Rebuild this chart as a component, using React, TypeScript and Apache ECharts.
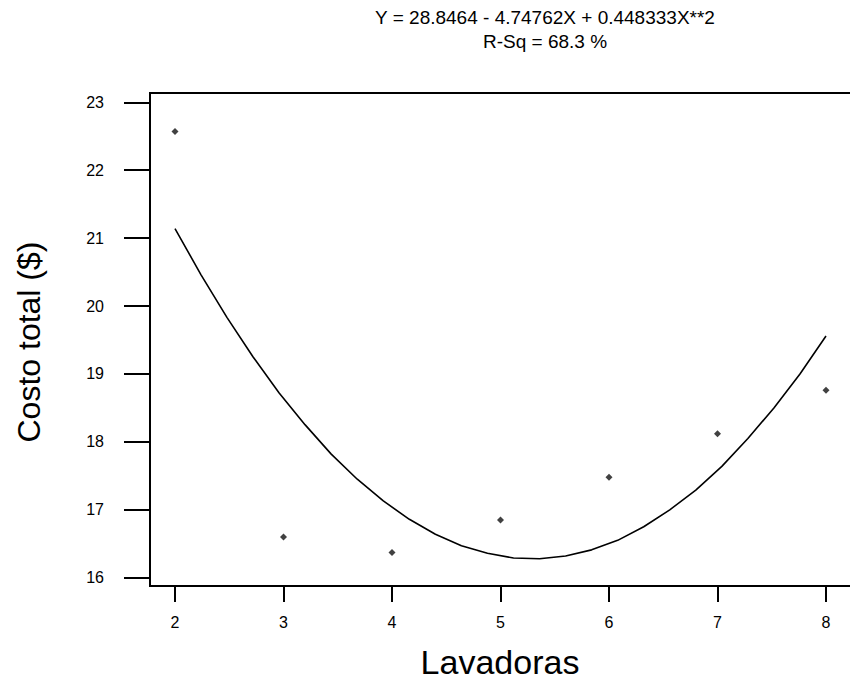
import React, { useEffect, useRef } from "react";
import * as echarts from "echarts";

const obsX = [2, 3, 4, 5, 6, 7, 8];
const obsY = [22.57, 16.6, 16.37, 16.85, 17.48, 18.12, 18.76];

const fitX = [2, 2.24, 2.48, 2.72, 2.96, 3.2, 3.44, 3.68, 3.92, 4.16, 4.4, 4.64, 4.88, 5.12, 5.36, 5.6, 5.84, 6.08, 6.32, 6.56, 6.8, 7.04, 7.28, 7.52, 7.76, 8];
const fitY = [21.14, 20.46, 19.83, 19.25, 18.72, 18.25, 17.82, 17.45, 17.13, 16.86, 16.64, 16.47, 16.36, 16.29, 16.28, 16.32, 16.41, 16.55, 16.75, 17.0, 17.29, 17.64, 18.05, 18.5, 19.0, 19.56];

const xTicks = [2, 3, 4, 5, 6, 7, 8];
const yTicks = [16, 17, 18, 19, 20, 21, 22, 23];

const titleLine1 = "Y = 28.8464 - 4.74762X + 0.448333X**2";
const titleLine2 = "R-Sq = 68.3 %";
const xName = "Lavadoras";
const yName = "Costo total ($)";

const FONT = "'Liberation Sans', Arial, sans-serif";

export default function App() {
  const ref = useRef<HTMLDivElement>(null);
  useEffect(() => {
    document.body.style.margin = "0";
    if (!ref.current) return;
    const chart = echarts.init(ref.current, null, { renderer: "svg" });
    chart.setOption({
      animation: false,
      backgroundColor: "#fff",
      textStyle: { fontFamily: FONT },
      grid: {
        left: 150,
        right: 0,
        top: 93,
        bottom: 95,
        show: true,
        borderColor: "#000",
        borderWidth: 2,
      },
      xAxis: {
        type: "value",
        min: 1.7696,
        max: 8.3134,
        splitLine: { show: false },
        axisLine: { show: false },
        axisTick: { show: true, length: 16, lineStyle: { color: "#000", width: 2 }, customValues: xTicks },
        axisLabel: { show: true, margin: 28, fontSize: 16, color: "#000", fontFamily: FONT, customValues: xTicks },
      },
      yAxis: {
        type: "value",
        min: 15.878,
        max: 23.137,
        splitLine: { show: false },
        axisLine: { show: false },
        axisTick: { show: true, length: 26, lineStyle: { color: "#000", width: 2 }, customValues: yTicks },
        axisLabel: { show: true, margin: 46, fontSize: 16, color: "#000", fontFamily: FONT, customValues: yTicks },
      },
      series: [
        {
          type: "line",
          data: fitX.map((x, i) => [x, fitY[i]]),
          showSymbol: false,
          symbol: "none",
          lineStyle: { color: "#000", width: 1.6 },
          silent: true,
          z: 2,
        },
        {
          type: "scatter",
          data: obsX.map((x, i) => [x, obsY[i]]),
          symbol: "diamond",
          symbolSize: 7,
          itemStyle: { color: "#111" },
          z: 3,
        },
      ],
      graphic: [
        {
          type: "text",
          x: 545,
          y: 17,
          style: { text: titleLine1, fontSize: 19, fontFamily: FONT, fill: "#000", align: "center", verticalAlign: "middle" },
        },
        {
          type: "text",
          x: 545,
          y: 41,
          style: { text: titleLine2, fontSize: 19, fontFamily: FONT, fill: "#000", align: "center", verticalAlign: "middle" },
        },
        {
          type: "text",
          x: 500,
          y: 662,
          style: { text: xName, fontSize: 34, fontFamily: FONT, fill: "#000", align: "center", verticalAlign: "middle" },
        },
        {
          type: "text",
          x: 29,
          y: 342,
          rotation: Math.PI / 2,
          style: { text: yName, fontSize: 32, fontFamily: FONT, fill: "#000", align: "center", verticalAlign: "middle" },
        },
      ],
    });
    return () => chart.dispose();
  }, []);
  return (
    <div style={{ width: 850, height: 681, overflow: "hidden", position: "relative" }}>
      <div ref={ref} style={{ width: 860, height: 681 }} />
    </div>
  );
}
